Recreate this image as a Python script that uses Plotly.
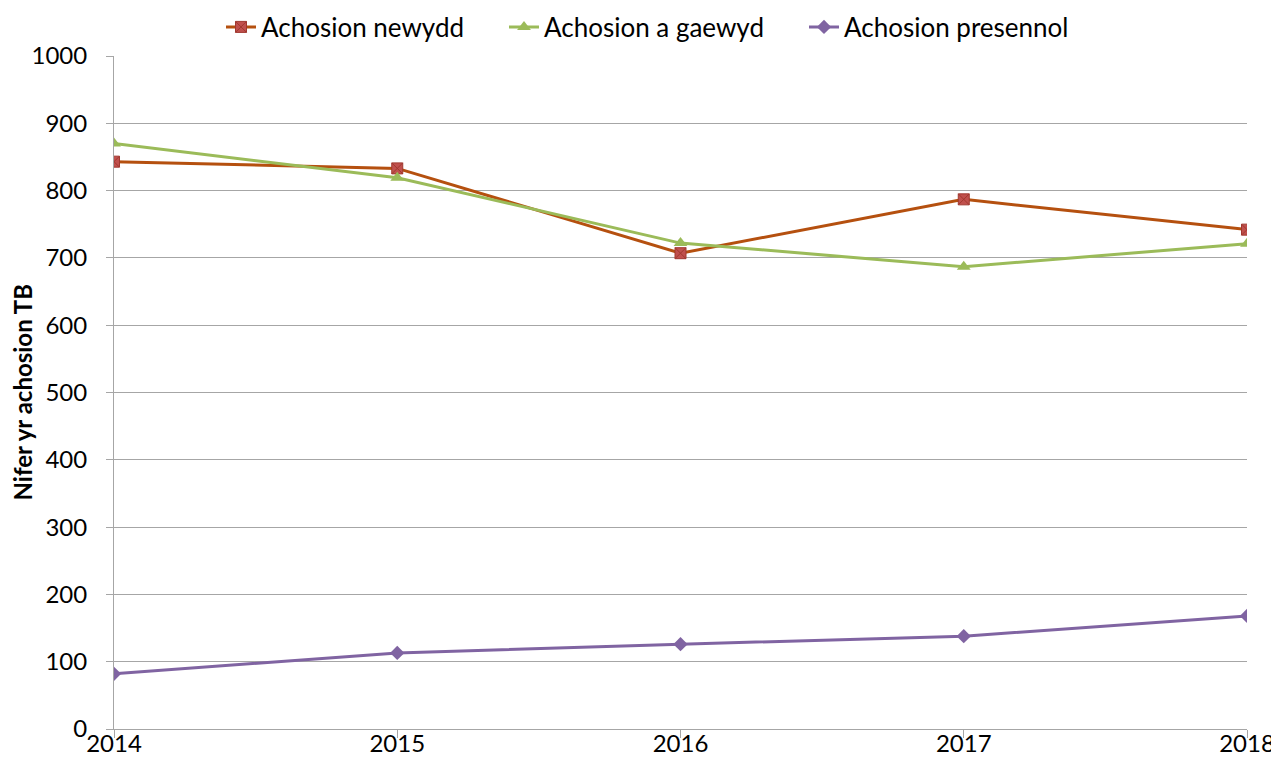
import plotly.graph_objects as go

years = [2014, 2015, 2016, 2017, 2018]
achosion_newydd = [843, 833, 707, 787, 742]
achosion_a_gaewyd = [870, 819, 722, 687, 721]
achosion_presennol = [82, 113, 126, 138, 168]
y_ticks = [0, 100, 200, 300, 400, 500, 600, 700, 800, 900, 1000]

FONT = "Lato, Carlito, 'Liberation Sans', sans-serif"
# page body has an 8px margin; figure sized to fit the window exactly
W, H = 1271, 768
L, R, T, B = 106, 32, 48, 47

fig = go.Figure()
fig.add_trace(go.Scatter(
    x=years, y=achosion_newydd, name="Achosion newydd", mode="lines+markers",
    line=dict(color="#B5500F", width=3),
    marker=dict(symbol="square-x", size=11, color="#C0504D",
                line=dict(color="#A0382F", width=1)),
    legend="legend",
))
fig.add_trace(go.Scatter(
    x=years, y=achosion_a_gaewyd, name="Achosion a gaewyd", mode="lines+markers",
    line=dict(color="#9BBB59", width=3),
    marker=dict(symbol="triangle-up", size=12, color="#9BBB59"),
    legend="legend2",
))
fig.add_trace(go.Scatter(
    x=years, y=achosion_presennol, name="Achosion presennol", mode="lines+markers",
    line=dict(color="#8064A2", width=3),
    marker=dict(symbol="diamond", size=11, color="#8064A2"),
    legend="legend3",
))

def leg(px):
    return dict(orientation="h", xref="container", yref="container",
                x=px / W, xanchor="left", y=1 - 19 / H, yanchor="middle",
                font=dict(size=26), itemwidth=30, bgcolor="rgba(0,0,0,0)",
                borderwidth=0)

fig.update_layout(
    width=W, height=H,
    margin=dict(l=L, r=R, t=T, b=B, autoexpand=False),
    paper_bgcolor="white", plot_bgcolor="white",
    font=dict(family=FONT, size=24, color="black"),
    showlegend=True,
    legend=leg(213),
    legend2=leg(496),
    legend3=leg(796),
    xaxis=dict(
        range=[2014, 2018], tickvals=years, ticktext=[str(y) for y in years],
        showgrid=False, showline=True, linecolor="#A6A6A6", linewidth=1,
        ticks="outside", ticklen=8, tickcolor="#A6A6A6", zeroline=False,
        tickfont=dict(size=24), automargin=False, ticklabelstandoff=-15,
    ),
    yaxis=dict(
        range=[0, 1000], tickvals=y_ticks,
        showgrid=True, gridcolor="#A6A6A6", gridwidth=1,
        showline=True, linecolor="#A6A6A6", linewidth=1,
        ticks="outside", ticklen=7, tickcolor="#A6A6A6", zeroline=False,
        tickfont=dict(size=24), automargin=False, ticklabelstandoff=14,
    ),
    annotations=[dict(
        text="<b>Nifer yr achosion TB</b>", textangle=-90,
        xref="paper", yref="paper", x=(14 - L) / (W - L - R), y=0.5,
        xanchor="center", yanchor="middle", showarrow=False,
        font=dict(size=24, family=FONT),
    )],
)

fig.write_html("out.html")
